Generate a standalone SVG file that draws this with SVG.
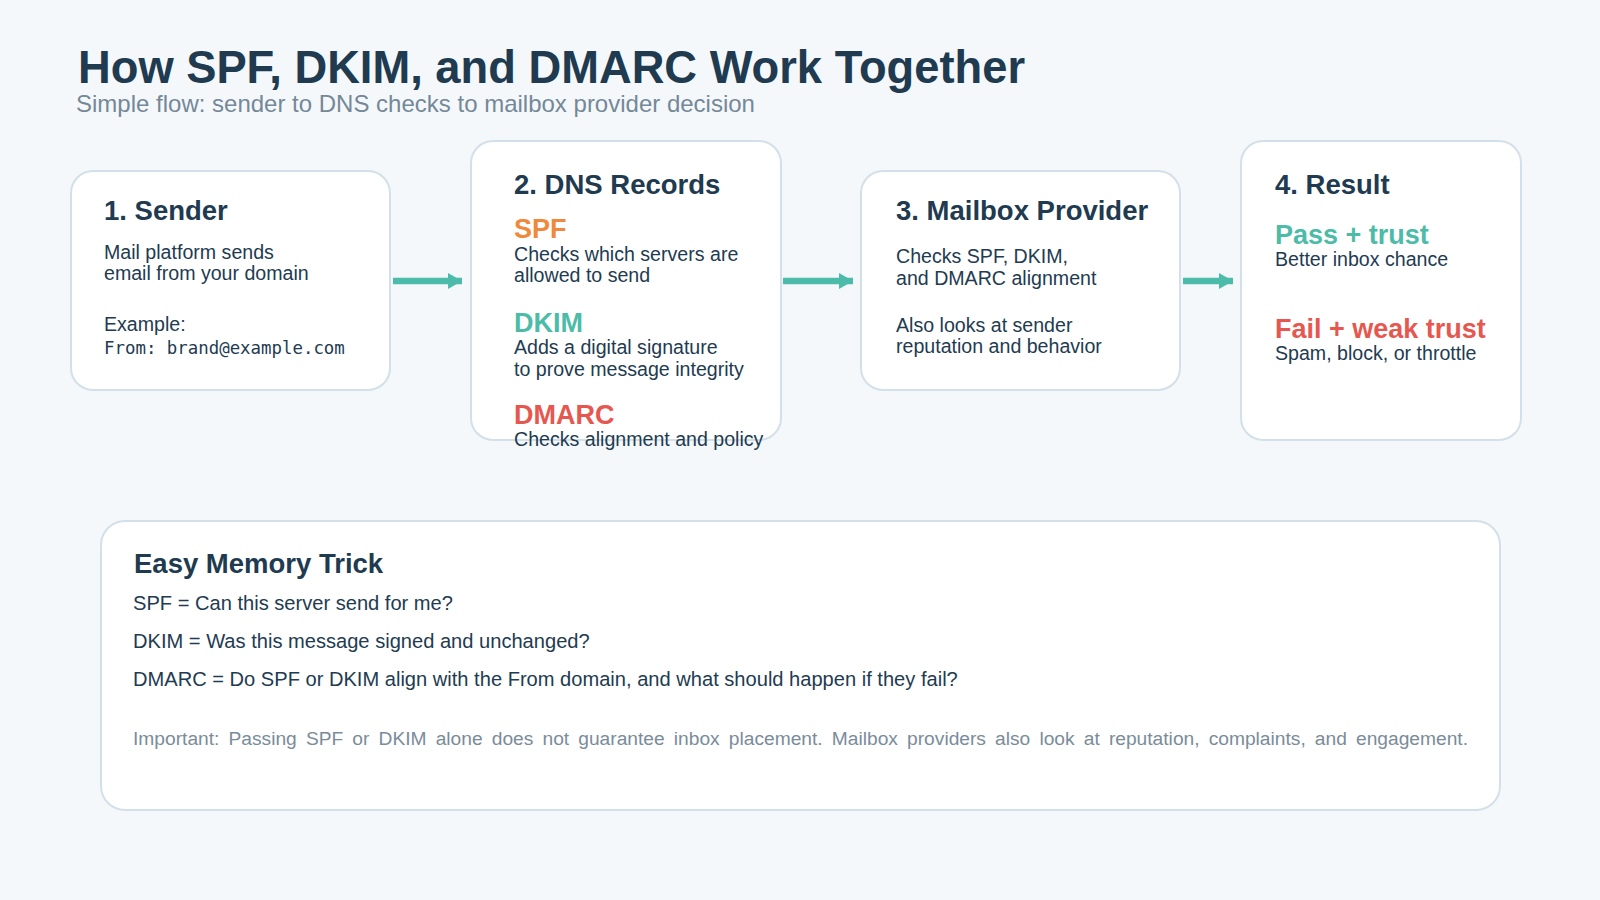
<svg xmlns="http://www.w3.org/2000/svg" width="1600" height="900" viewBox="0 0 1600 900">
  <defs>
    <style>
      .bg { fill: #f4f8fb; }
      .card { fill: #ffffff; stroke: #d3e0ea; stroke-width: 2; }
      .title { font-family: "Liberation Sans", Arial, sans-serif; font-weight: 700; font-size: 45.3px; fill: #203a50; }
      .subtitle { font-family: "Liberation Sans", Arial, sans-serif; font-size: 24px; fill: #748898; }
      .h { font-family: "Liberation Sans", Arial, sans-serif; font-weight: 700; font-size: 27.5px; fill: #203a50; }
      .lbl { font-family: "Liberation Sans", Arial, sans-serif; font-weight: 700; font-size: 27px; }
      .body { font-family: "Liberation Sans", Arial, sans-serif; font-size: 19.6px; fill: #223b51; }
      .mem { font-family: "Liberation Sans", Arial, sans-serif; font-size: 20.1px; fill: #223b51; }
      .note { font-family: "Liberation Sans", Arial, sans-serif; font-size: 19.2px; fill: #7a8c9a; word-spacing: 3.8px; }
      .mono { font-family: "DejaVu Sans Mono", "Liberation Mono", monospace; font-size: 17.4px; fill: #223b51; }
      .orange { fill: #f0893b; }
      .teal { fill: #4cbba8; }
      .red { fill: #e6584f; }
      .conn { stroke: #4dbba9; stroke-width: 6.5; fill: none; }
    </style>
    <marker id="arrow" markerUnits="userSpaceOnUse" markerWidth="16" markerHeight="18" refX="14" refY="8" orient="auto">
      <path d="M0,0 L14,8 L0,16 Z" fill="#4dbba9"/>
    </marker>
  </defs>

  <rect class="bg" x="0" y="0" width="1600" height="900"/>

  <g id="header">
    <text class="title" x="78" y="83">How SPF, DKIM, and DMARC Work Together</text>
    <text class="subtitle" x="76" y="112">Simple flow: sender to DNS checks to mailbox provider decision</text>
  </g>

  <g id="connectors">
    <line class="conn" x1="393" y1="281" x2="462" y2="281" marker-end="url(#arrow)"/>
    <line class="conn" x1="783" y1="281" x2="853" y2="281" marker-end="url(#arrow)"/>
    <line class="conn" x1="1183" y1="281" x2="1233" y2="281" marker-end="url(#arrow)"/>
  </g>

  <g id="node-sender">
    <rect class="card" x="71" y="171" width="319" height="219" rx="22"/>
    <text class="h" x="104" y="220">1. Sender</text>
    <text class="body" x="104" y="259">Mail platform sends</text>
    <text class="body" x="104" y="280">email from your domain</text>
    <text class="body" x="104" y="331">Example:</text>
    <text class="mono" x="104" y="354">From: brand@example.com</text>
  </g>

  <g id="node-dns">
    <rect class="card" x="471" y="141" width="310" height="299" rx="22"/>
    <text class="h" x="514" y="194">2. DNS Records</text>
    <text class="lbl orange" x="514" y="238">SPF</text>
    <text class="body" x="514" y="261">Checks which servers are</text>
    <text class="body" x="514" y="282">allowed to send</text>
    <text class="lbl teal" x="514" y="332">DKIM</text>
    <text class="body" x="514" y="354">Adds a digital signature</text>
    <text class="body" x="514" y="376">to prove message integrity</text>
    <text class="lbl red" x="514" y="424">DMARC</text>
    <text class="body" x="514" y="446">Checks alignment and policy</text>
  </g>

  <g id="node-mailbox">
    <rect class="card" x="861" y="171" width="319" height="219" rx="22"/>
    <text class="h" x="896" y="220">3. Mailbox Provider</text>
    <text class="body" x="896" y="263">Checks SPF, DKIM,</text>
    <text class="body" x="896" y="285">and DMARC alignment</text>
    <text class="body" x="896" y="332">Also looks at sender</text>
    <text class="body" x="896" y="353">reputation and behavior</text>
  </g>

  <g id="node-result">
    <rect class="card" x="1241" y="141" width="280" height="299" rx="22"/>
    <text class="h" x="1275" y="194">4. Result</text>
    <text class="lbl teal" x="1275" y="244">Pass + trust</text>
    <text class="body" x="1275" y="266">Better inbox chance</text>
    <text class="lbl red" x="1275" y="338">Fail + weak trust</text>
    <text class="body" x="1275" y="360">Spam, block, or throttle</text>
  </g>

  <g id="node-memory">
    <rect class="card" x="101" y="521" width="1399" height="289" rx="24"/>
    <text class="h" x="134" y="573">Easy Memory Trick</text>
    <text class="mem" x="133" y="610">SPF = Can this server send for me?</text>
    <text class="mem" x="133" y="648">DKIM = Was this message signed and unchanged?</text>
    <text class="mem" x="133" y="686">DMARC = Do SPF or DKIM align with the From domain, and what should happen if they fail?</text>
    <text class="note" x="133" y="745">Important: Passing SPF or DKIM alone does not guarantee inbox placement. Mailbox providers also look at reputation, complaints, and engagement.</text>
  </g>
</svg>
